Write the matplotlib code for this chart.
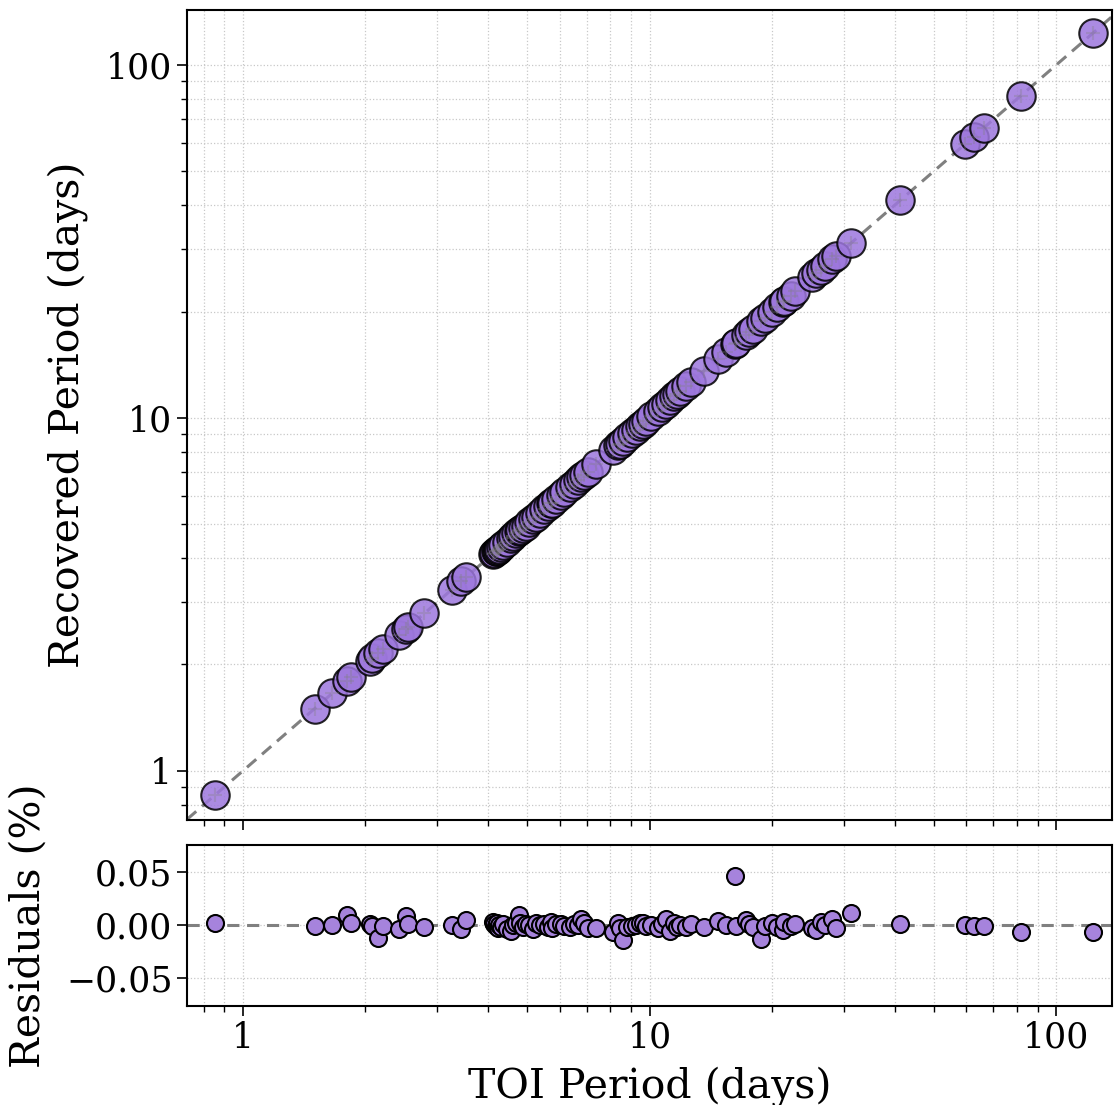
import numpy as np
import matplotlib
matplotlib.use('Agg')
import matplotlib.pyplot as plt
from matplotlib.ticker import ScalarFormatter, NullFormatter

plt.rcParams['font.family'] = 'DejaVu Serif'

# TOI period (days) and residual of recovered period (%)
toi_period = [
    0.854, 1.50, 1.656, 1.80, 1.845, 2.05, 2.08, 2.15, 2.21, 2.42, 2.52, 2.55,
    2.79, 3.26, 3.44, 3.54,
    4.12, 4.15, 4.18, 4.20, 4.23, 4.26, 4.31, 4.35, 4.45, 4.57, 4.62, 4.70,
    4.78, 4.80, 4.88, 4.95, 5.05, 5.16, 5.25, 5.38, 5.50, 5.62, 5.72, 5.75,
    5.88, 6.05, 6.15, 6.35, 6.50, 6.65, 6.78, 6.90, 7.04, 7.38,
    8.11, 8.35, 8.45, 8.58, 8.80, 9.07, 9.25, 9.45, 9.60, 9.80, 10.1, 10.45,
    10.7, 10.96, 11.2, 11.49, 11.7, 11.9, 12.27, 12.6, 13.6, 14.7, 15.4,
    16.2, 16.3, 17.2, 17.5, 17.9, 18.75, 19.2, 20.0, 20.6, 21.3, 21.4, 22.2,
    22.8, 25.1, 25.7, 26.3, 27.0, 28.1, 28.7, 31.2,
    41.3, 59.5, 62.6, 66.2, 81.7, 122.8,
]
residual_pct = [
    0.002, -0.001, 0.000, 0.009, 0.002, 0.001, -0.001, -0.012, -0.001, -0.004,
    0.008, 0.001, -0.002, 0.000, -0.004, 0.005,
    0.003, 0.001, -0.001, 0.002, -0.003, 0.000, -0.002, 0.001, -0.004, -0.006,
    0.000, 0.002, 0.009, 0.002, -0.002, 0.001, 0.000, -0.004, 0.002, 0.000,
    0.001, -0.002, 0.003, -0.003, 0.001, 0.001, -0.001, -0.002, 0.001, 0.000,
    0.006, 0.002, -0.003, -0.003,
    -0.007, 0.002, -0.003, -0.014, -0.002, -0.001, 0.000, 0.002, 0.002,
    -0.001, 0.000, -0.003, 0.001, 0.006, -0.006, 0.002, -0.002, 0.000,
    -0.002, 0.001, -0.002, 0.004, 0.000, 0.046, -0.001, 0.005, 0.001, -0.002,
    -0.013, -0.001, 0.002, -0.002, -0.005, 0.003, -0.001, 0.001, -0.003,
    -0.005, 0.003, 0.000, 0.006, -0.003, 0.0115,
    0.001, 0.000, -0.001, -0.001, -0.007, -0.007,
]

toi = np.array(toi_period)
res = np.array(residual_pct)
recovered = toi * (1 + res / 100)

W, H = 1114, 1105
fig = plt.figure(figsize=(W / 100, H / 100), dpi=100)
ax = fig.add_axes([187 / W, 1 - 820 / H, 925 / W, 810 / H])
axr = fig.add_axes([187 / W, 1 - 1006 / H, 925 / W, 161 / H], sharex=ax)

lims = (0.728, 137)
ax.plot(lims, lims, ls='--', color='grey', lw=2.2, dashes=(4, 2.5), zorder=1)
ax.scatter(toi, recovered, s=420, color='#9d77dd', alpha=0.85,
           edgecolor='k', linewidth=1.5, zorder=3)
ax.scatter(toi, toi, s=90, marker='+', color='grey', alpha=0.3,
           linewidth=1.5, zorder=4)

ax.set_xscale('log')
ax.set_yscale('log')
ax.set_xlim(0.728, 137)
ax.set_ylim(0.725, 143)
ax.set_ylabel('Recovered Period (days)', fontsize=29.5)
ax.yaxis.set_label_coords(-0.107, 0.5)
ax.tick_params(labelbottom=False)

axr.axhline(0, ls='--', color='grey', lw=2.2, dashes=(4, 2.5), zorder=1)
axr.scatter(toi, res, s=150, color='#a683dc', edgecolor='k',
            linewidth=1.5, zorder=3)
axr.set_ylim(-0.0765, 0.0755)
axr.set_yticks([-0.05, 0.0, 0.05])
axr.set_ylabel('Residuals (%)', fontsize=29.5)
axr.yaxis.set_label_coords(-0.150, 0.5)
axr.set_xlabel('TOI Period (days)', fontsize=29.5, labelpad=8)

for a in (ax, axr):
    a.grid(True, which='both', ls=':', color='#c8c8c8', lw=0.9)
    a.set_axisbelow(True)
    a.tick_params(which='major', labelsize=25, length=7, width=1.2)
    a.tick_params(which='minor', length=4, width=1)
    for sp in a.spines.values():
        sp.set_linewidth(1.5)

for axis in (ax.xaxis, ax.yaxis):
    axis.set_major_formatter(ScalarFormatter())
    axis.set_minor_formatter(NullFormatter())
axr.xaxis.set_major_formatter(ScalarFormatter())
axr.xaxis.set_minor_formatter(NullFormatter())

fig.savefig('out.png', dpi=100)
